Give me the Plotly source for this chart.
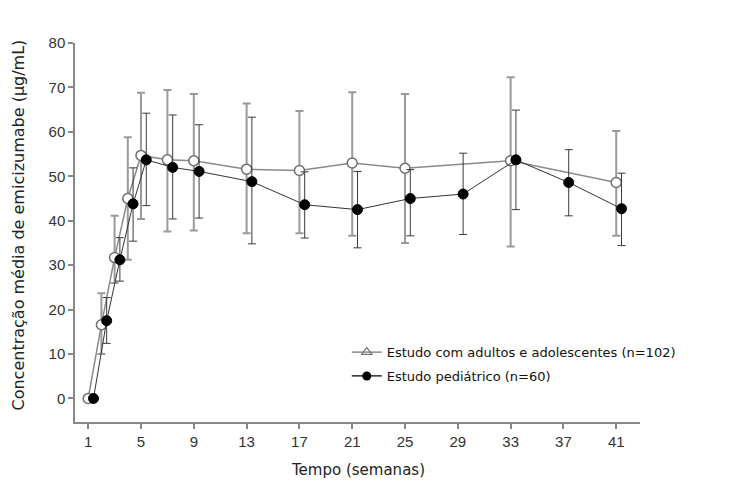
import plotly.graph_objects as go

# ---- data ----
adult_weeks = [1, 2, 3, 4, 5, 7, 9, 13, 17, 21, 25, 33, 41]
adult_mean = [0, 16.6, 31.7, 45.0, 54.7, 53.7, 53.5, 51.6, 51.3, 53.0, 51.8, 53.5, 48.6]
adult_upper = [0, 23.7, 41.1, 58.8, 68.8, 69.4, 68.5, 66.4, 64.7, 68.9, 68.5, 72.3, 60.2]
adult_lower = [0, 10.0, 26.0, 31.2, 40.4, 37.6, 37.8, 37.2, 37.2, 36.6, 35.0, 34.2, 36.6]

ped_weeks = [1, 2, 3, 4, 5, 7, 9, 13, 17, 21, 25, 29, 33, 37, 41]
ped_mean = [0, 17.5, 31.2, 43.8, 53.7, 52.0, 51.1, 48.8, 43.6, 42.5, 45.0, 46.0, 53.7, 48.6, 42.7]
ped_upper = [0, 22.7, 36.2, 51.9, 64.2, 63.8, 61.6, 63.3, 51.0, 51.1, 51.5, 55.2, 64.9, 56.0, 50.7]
ped_lower = [0, 12.4, 26.4, 35.4, 43.4, 40.4, 40.6, 34.8, 36.1, 33.9, 36.6, 36.9, 42.5, 41.1, 34.4]

x_ticks = [1, 5, 9, 13, 17, 21, 25, 29, 33, 37, 41]
y_ticks = [0, 10, 20, 30, 40, 50, 60, 70, 80]

adult_name = "Estudo com adultos e adolescentes (n=102)"
ped_name = "Estudo pediátrico (n=60)"
x_title = "Tempo (semanas)"
y_title = "Concentração média de emicizumabe (µg/mL)"

ped_offset = 0.4  # horizontal dodge of the paediatric series

# ---- derived ----
a_plus = [u - m for u, m in zip(adult_upper, adult_mean)]
a_minus = [m - l for l, m in zip(adult_lower, adult_mean)]
p_plus = [u - m for u, m in zip(ped_upper, ped_mean)]
p_minus = [m - l for l, m in zip(ped_lower, ped_mean)]
ped_x = [w + ped_offset for w in ped_weeks]

fig = go.Figure()

fig.add_trace(go.Scatter(
    x=adult_weeks, y=adult_mean, mode="lines+markers", showlegend=False,
    line=dict(color="#8a8a8a", width=1.5),
    marker=dict(symbol="circle", size=10, color="white",
                line=dict(color="#6e6e6e", width=1.5)),
    error_y=dict(type="data", symmetric=False, array=a_plus, arrayminus=a_minus,
                 color="#9a9a9a", thickness=2, width=4),
))

fig.add_trace(go.Scatter(
    x=ped_x, y=ped_mean, mode="lines+markers", showlegend=False,
    line=dict(color="#333333", width=1),
    marker=dict(symbol="circle", size=10, color="black",
                line=dict(color="black", width=1)),
    error_y=dict(type="data", symmetric=False, array=p_plus, arrayminus=p_minus,
                 color="#3a3a3a", thickness=1, width=4),
))

# legend-only entries
fig.add_trace(go.Scatter(
    x=[None], y=[None], mode="lines+markers", name=adult_name, legendgroup="a",
    line=dict(color="#777777", width=1.2),
    marker=dict(symbol="triangle-up-open", size=9, color="#777777",
                line=dict(width=1.2)),
))
fig.add_trace(go.Scatter(
    x=[None], y=[None], mode="lines+markers", name=ped_name, legendgroup="b",
    line=dict(color="black", width=1.2),
    marker=dict(symbol="circle", size=9, color="black"),
))

tick_font = dict(family="Arial, Liberation Sans, sans-serif", size=15, color="#333333")
text_family = "DejaVu Sans, Verdana, sans-serif"

fig.update_layout(
    width=740, height=471,
    margin=dict(l=67, r=108, t=35, b=57),
    paper_bgcolor="white", plot_bgcolor="white",
    font=dict(family=text_family, size=13, color="#222222"),
    legend=dict(x=0.481, y=0.224, xanchor="left", yanchor="top",
                bgcolor="rgba(255,255,255,0)",
                font=dict(family=text_family, size=13, color="#111111"),
                tracegroupgap=4),
    xaxis=dict(
        range=[0, 42.8], tickmode="array", tickvals=x_ticks,
        ticks="outside", ticklen=5, tickcolor="#888888", tickwidth=1.5,
        showline=True, linecolor="#888888", linewidth=1.5,
        showgrid=False, zeroline=False, tickfont=tick_font,
    ),
    yaxis=dict(
        range=[-5.3, 80], tickmode="array", tickvals=y_ticks,
        ticks="outside", ticklen=5, tickcolor="#888888", tickwidth=1.5,
        showline=True, linecolor="#888888", linewidth=1.5,
        showgrid=False, zeroline=False, tickfont=tick_font,
    ),
    annotations=[
        dict(text=x_title, xref="paper", yref="paper", x=0.5, y=0,
             xanchor="center", yanchor="middle", yshift=-48, showarrow=False,
             font=dict(family=text_family, size=15, color="#222222")),
        dict(text=y_title, xref="paper", yref="paper", x=0, y=0.5,
             xanchor="center", yanchor="middle", xshift=-57, yshift=7,
             textangle=-90, showarrow=False,
             font=dict(family=text_family, size=16, color="#222222")),
    ],
)

fig.write_html("out.html")
